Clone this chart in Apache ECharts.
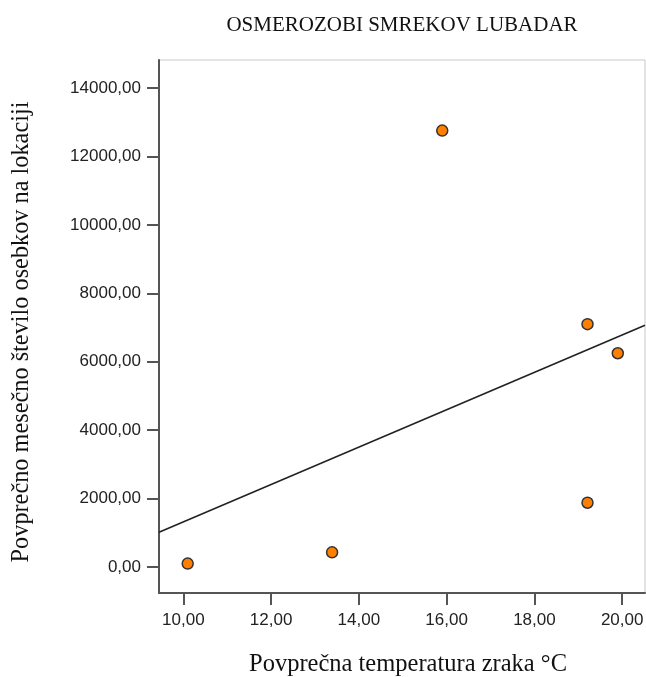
<!DOCTYPE html>
<html>
<head>
<meta charset="utf-8">
<script src="https://cdn.jsdelivr.net/npm/echarts@6/dist/echarts.min.js"></script>
<style>html,body{margin:0;padding:0;background:#fff}#c{width:646px;height:677px}</style>
</head>
<body>
<div id="c"></div>
<script>
var titleText = 'OSMEROZOBI SMREKOV LUBADAR';
var xName = 'Povprečna temperatura zraka °C';
var yName = 'Povprečno mesečno število osebkov na lokaciji';
var temperature = [10.10, 13.39, 15.90, 19.21, 19.90, 19.21];
var abundance = [100, 430, 12760, 7100, 6250, 1880];
var xTicks = [10, 12, 14, 16, 18, 20];
var yTicks = [0, 2000, 4000, 6000, 8000, 10000, 12000, 14000];
var xMin = 9.446, xMax = 20.52;
var yMin = -760, yMax = 14825;

var pts = temperature.map(function (t, i) { return [t, abundance[i]]; });
// least squares fit line
var n = temperature.length, mx = 0, my = 0;
for (var i = 0; i < n; i++) { mx += temperature[i]; my += abundance[i]; }
mx /= n; my /= n;
var sxx = 0, sxy = 0;
for (var i = 0; i < n; i++) { sxx += (temperature[i]-mx)*(temperature[i]-mx); sxy += (temperature[i]-mx)*(abundance[i]-my); }
var slope = sxy / sxx, icpt = my - slope * mx;
var fit = [[xMin, icpt + slope * xMin], [xMax, icpt + slope * xMax]];

function fmt(v) { return v.toFixed(2).replace('.', ','); }

var chart = echarts.init(document.getElementById('c'), null, {renderer: 'canvas'});
chart.setOption({
  animation: false,
  backgroundColor: '#fff',
  title: {
    text: titleText, left: 402, top: 15, textAlign: 'center', padding: 0,
    textStyle: {fontFamily: 'Liberation Serif', fontSize: 21, fontWeight: 'normal', color: '#111'}
  },
  grid: {left: 159, top: 60, right: 1, bottom: 84, outerBoundsMode: 'none', containLabel: false,
         show: true, borderColor: '#c8c8c8', borderWidth: 1, backgroundColor: '#fff'},
  xAxis: {
    type: 'value', min: xMin, max: xMax,
    name: xName, nameLocation: 'middle', nameGap: 59,
    nameTextStyle: {fontFamily: 'Liberation Serif', fontSize: 24.5, color: '#111', padding: [0, 0, 0, 12]},
    axisLine: {show: true, onZero: false, lineStyle: {color: '#555', width: 2}},
    axisTick: {show: true, length: 12, customValues: xTicks, lineStyle: {color: '#555', width: 2}},
    axisLabel: {customValues: xTicks, formatter: fmt, margin: 19, fontFamily: 'Liberation Sans', fontSize: 17, color: '#222'},
    splitLine: {show: false}
  },
  yAxis: {
    type: 'value', min: yMin, max: yMax,
    name: yName, nameLocation: 'middle', nameGap: 125,
    nameTextStyle: {fontFamily: 'Liberation Serif', fontSize: 24.3, color: '#111', padding: [0, 11, 0, 0]},
    axisLine: {show: true, onZero: false, lineStyle: {color: '#555', width: 2}},
    axisTick: {show: true, length: 12, customValues: yTicks, lineStyle: {color: '#555', width: 2}},
    axisLabel: {customValues: yTicks, formatter: fmt, margin: 18, fontFamily: 'Liberation Sans', fontSize: 17, color: '#222'},
    splitLine: {show: false}
  },
  series: [
    {
      type: 'line', data: fit, showSymbol: false, symbol: 'none',
      lineStyle: {color: '#222', width: 1.6}, silent: true, z: 2
    },
    {
      type: 'scatter', data: pts, symbol: 'circle', symbolSize: 11,
      itemStyle: {color: '#FF8000', borderColor: '#333', borderWidth: 1.5, opacity: 1}, z: 3
    }
  ]
});
</script>
</body>
</html>
